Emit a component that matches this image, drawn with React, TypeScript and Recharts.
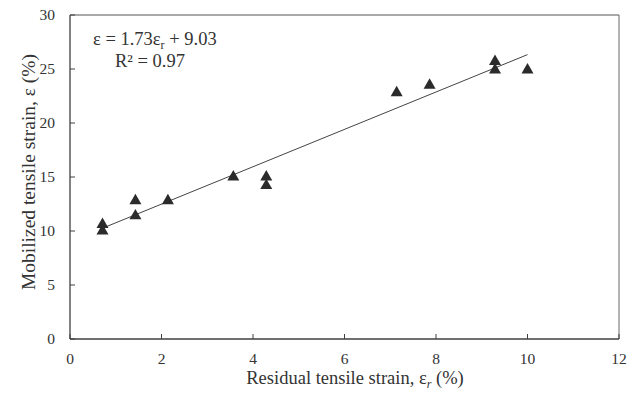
import React from 'react';
import { ComposedChart, Scatter, XAxis, YAxis, ReferenceLine } from 'recharts';

// measured points (residual vs mobilized tensile strain, %)
const residualStrain = [0.71, 0.71, 1.43, 1.43, 2.14, 3.57, 4.29, 4.29, 7.14, 7.86, 9.29, 9.29, 10.0];
const mobilizedStrain = [10.6, 10.0, 12.8, 11.4, 12.8, 15.0, 15.0, 14.2, 22.8, 23.5, 25.7, 24.9, 24.9];

// linear fit shown on the chart
const fitSlope = 1.73;
const fitIntercept = 9.03;
const fitRange = [0.71, 10.0];

const xTicks = [0, 2, 4, 6, 8, 10, 12];
const yTicks = [0, 5, 10, 15, 20, 25, 30];

const points = residualStrain.map((x, i) => ({ x, y: mobilizedStrain[i] }));
const fitLine = fitRange.map(x => ({ x, y: fitSlope * x + fitIntercept }));

const FONT = '"Liberation Serif", "Times New Roman", serif';
const AXIS = '#404040';
const TEXT = '#333';

const Triangle = (props: any) => {
  const { cx, cy } = props;
  const s = 12;
  const h = s * 0.87;
  return (
    <polygon
      points={`${cx},${cy - (2 * h) / 3} ${cx - s / 2},${cy + h / 3} ${cx + s / 2},${cy + h / 3}`}
      fill="#2b2b2b"
    />
  );
};

const XTick = (props: any) => {
  const { x, y, payload } = props;
  const axisY = y - 12;
  return (
    <g>
      <line x1={x} x2={x} y1={axisY} y2={axisY - 5} stroke={AXIS} />
      <text x={x} y={y} dy={13} textAnchor="middle" fill={TEXT} fontSize={15.5} fontFamily={FONT}>
        {payload.value}
      </text>
    </g>
  );
};

const YTick = (props: any) => {
  const { x, y, payload } = props;
  const axisX = x + 15;
  return (
    <g>
      <line x1={axisX} x2={axisX + 5} y1={y} y2={y} stroke={AXIS} />
      <text x={x} y={y} dy={5} textAnchor="end" fill={TEXT} fontSize={15.5} fontFamily={FONT}>
        {payload.value}
      </text>
    </g>
  );
};

export default function App() {
  return (
    <div style={{ position: 'absolute', left: 0, top: 0, width: 640, height: 399, background: '#fff' }}>
      <ComposedChart width={640} height={399} margin={{ top: 15, right: 21, bottom: 0, left: 0 }}>
        <XAxis
          type="number"
          dataKey="x"
          domain={[0, 12]}
          ticks={xTicks}
          height={60}
          tickSize={0}
          tickMargin={12}
          tickLine={false}
          axisLine={{ stroke: AXIS, strokeWidth: 1.3 }}
          tick={<XTick />}
          allowDataOverflow
        />
        <YAxis
          type="number"
          dataKey="y"
          domain={[0, 30]}
          ticks={yTicks}
          width={70}
          tickSize={0}
          tickMargin={15}
          tickLine={false}
          axisLine={{ stroke: AXIS, strokeWidth: 1.3 }}
          tick={<YTick />}
          allowDataOverflow
        />
        <ReferenceLine y={30} stroke="#8c8c8c" strokeWidth={1.3} />
        <ReferenceLine x={12} stroke="#666" strokeWidth={1} />
        <Scatter
          data={fitLine}
          line={{ stroke: '#444', strokeWidth: 1 }}
          shape={() => <g />}
          isAnimationActive={false}
        />
        <Scatter data={points} shape={<Triangle />} isAnimationActive={false} />
      </ComposedChart>
      <svg
        width={640}
        height={399}
        style={{ position: 'absolute', left: 0, top: 0, pointerEvents: 'none' }}
        fontFamily={FONT}
        fill={TEXT}
      >
        <text x={93} y={45} fontSize={18.5}>
          ε = 1.73ε<tspan fontSize={12} dy={4}>r</tspan>
          <tspan dy={-4}> + 9.03</tspan>
        </text>
        <text x={115} y={67} fontSize={18.5}>
          R² = 0.97
        </text>
        <text x={355} y={384} fontSize={18.5} textAnchor="middle">
          Residual tensile strain, ε<tspan fontSize={12} dy={4} fontStyle="italic">r</tspan>
          <tspan dy={-4}> (%)</tspan>
        </text>
        <text x={0} y={0} fontSize={19.5} textAnchor="middle" transform="translate(35,172) rotate(-90)">
          Mobilized tensile strain, ε (%)
        </text>
      </svg>
    </div>
  );
}
